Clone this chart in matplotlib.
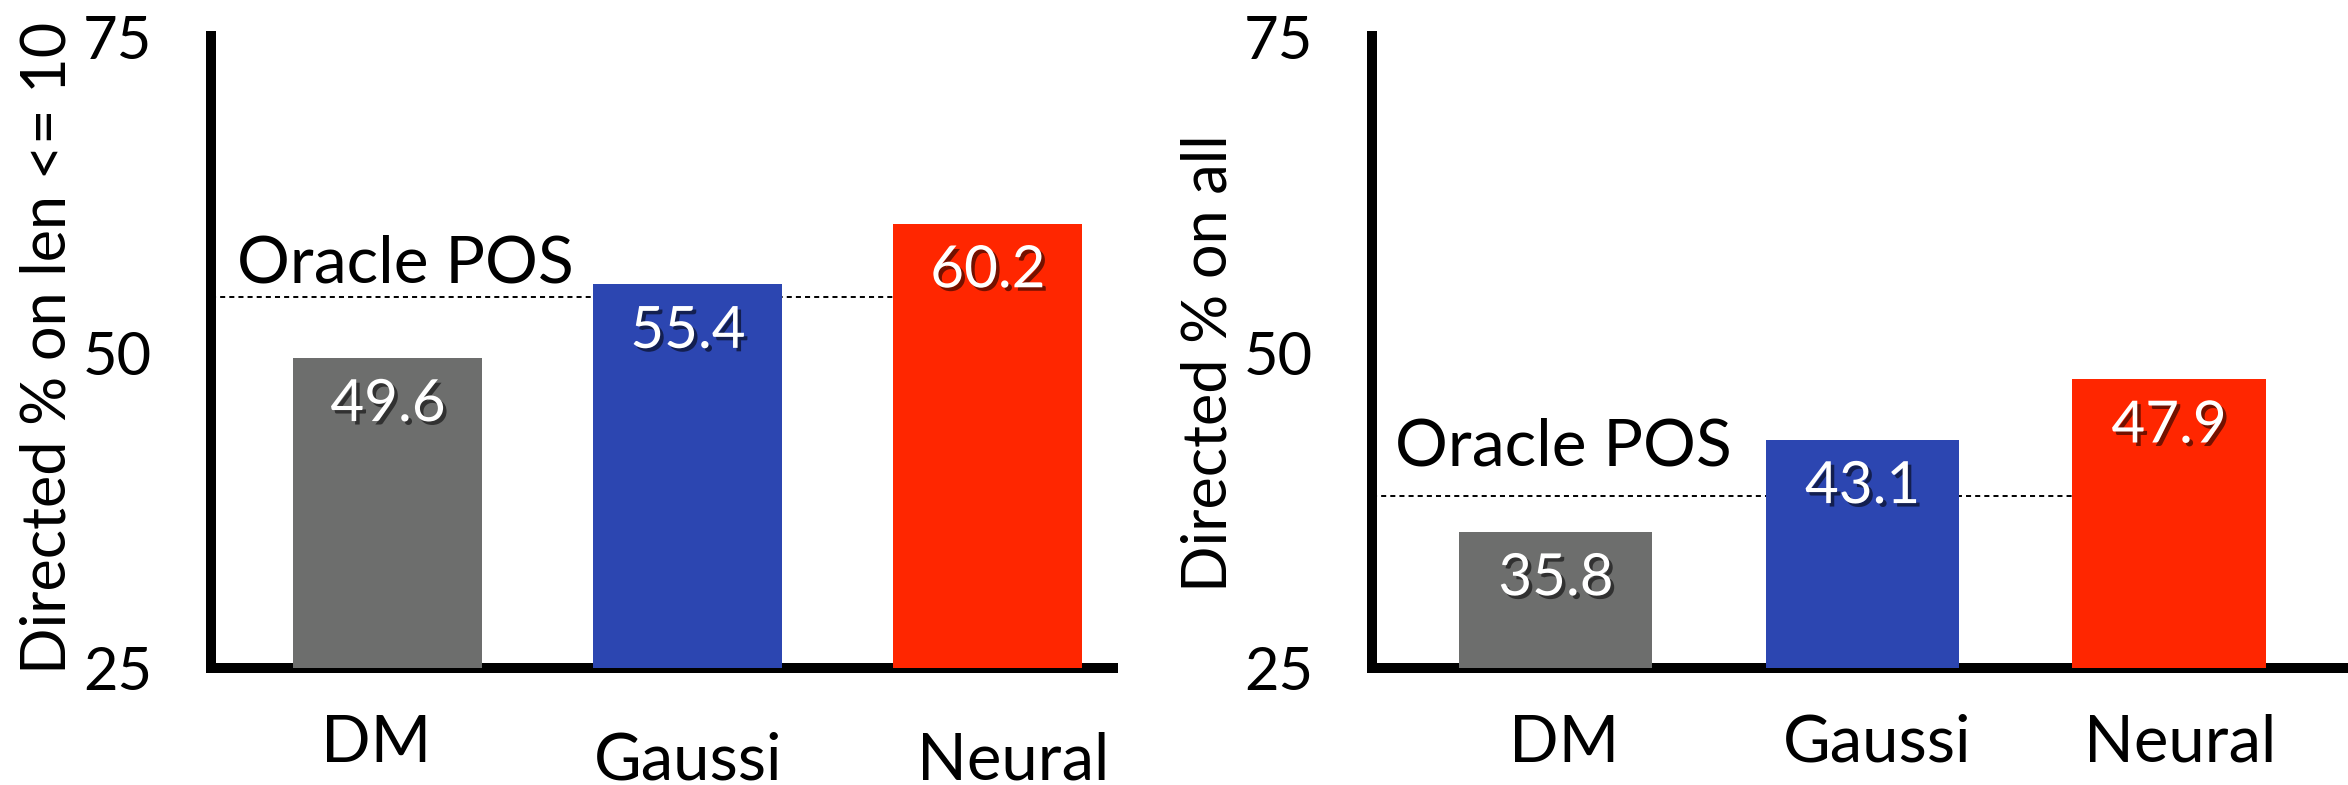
import matplotlib
matplotlib.use("Agg")
import matplotlib.pyplot as plt
from matplotlib import patheffects

plt.rcParams['font.family'] = ['Lato', 'DejaVu Sans']

# Directed dependency accuracy (%) per model
categories = ["DM", "Gaussi", "Neural"]
short_scores = [49.6, 55.4, 60.2]   # sentences with len <= 10
all_scores = [35.8, 43.1, 47.9]     # all sentences
oracle_short = 54.4
oracle_all = 38.6
y_ticks = [25, 50, 75]
y_labels = ["Directed % on len <= 10", "Directed % on all"]
bar_colors = ["#6d6e6d", "#2c46b1", "#ff2600"]

DPI = 100
W, H = 2348, 785
fig = plt.figure(figsize=(W / DPI, H / DPI), dpi=DPI)


def pt(pixels):
    return pixels * 72.0 / DPI


panels = [
    dict(rect=[211 / W, 117 / H, 902 / W, 632 / H], xlim=(-0.59, 2.417),
         values=short_scores, oracle=oracle_short, ylabel=y_labels[0],
         ylabel_xy=(48, 348), oracle_off=(26, 14),
         cat_off=[(-12, -94), (0, -111), (25, -111)]),
    dict(rect=[1372 / W, 117 / H, 976 / W, 632 / H], xlim=(-0.60, 2.584),
         values=all_scores, oracle=oracle_all, ylabel=y_labels[1],
         ylabel_xy=(1209, 363), oracle_off=(23, 31),
         cat_off=[(8, -94), (15, -94), (11, -94)]),
]

shadow = [patheffects.withSimplePatchShadow(offset=(2.5, -2.5),
                                            shadow_rgbFace="black", alpha=0.55)]

for p in panels:
    ax = fig.add_axes(p["rect"])
    xs = range(len(categories))
    ax.bar(xs, p["values"], width=0.63, bottom=0, color=bar_colors, zorder=3)
    ax.set_xlim(*p["xlim"])
    ax.set_ylim(25, 75.08)

    # dotted oracle reference line, passing behind the bars
    ax.plot([p["xlim"][0], 2], [p["oracle"], p["oracle"]], color="black",
            lw=1.4, linestyle=(0, (2.6, 2.1)), zorder=2, solid_capstyle="butt")
    ax.annotate("Oracle POS", xy=(0, p["oracle"]), xycoords=ax.get_yaxis_transform(),
                xytext=p["oracle_off"], textcoords="offset pixels",
                ha="left", va="baseline", fontsize=47.5, color="black")

    for i, v in enumerate(p["values"]):
        ax.annotate(f"{v:.1f}", xy=(i, v), xytext=(0, -42), textcoords="offset pixels",
                    ha="center", va="center_baseline", fontsize=42, color="white",
                    path_effects=shadow, zorder=5)

    for i, (name, off) in enumerate(zip(categories, p["cat_off"])):
        ax.annotate(name, xy=(i, 25), xytext=off, textcoords="offset pixels",
                    ha="center", va="baseline", fontsize=47, color="black",
                    annotation_clip=False)

    for side in ("top", "right"):
        ax.spines[side].set_visible(False)
    for side in ("left", "bottom"):
        ax.spines[side].set_linewidth(pt(10))
        ax.spines[side].set_color("black")
        ax.spines[side].set_capstyle("projecting")
        ax.spines[side].set_zorder(2.5)

    ax.set_xticks([])
    ax.set_yticks(y_ticks)
    ax.set_yticklabels([str(t) for t in y_ticks])
    ax.tick_params(axis="y", length=0, pad=pt(59), labelsize=43)
    ax.patch.set_visible(False)

    fig.text(p["ylabel_xy"][0] / W, 1 - p["ylabel_xy"][1] / H, p["ylabel"],
             rotation=90, ha="center", va="center", fontsize=44)

fig.savefig("out.png", dpi=DPI, facecolor="white")
